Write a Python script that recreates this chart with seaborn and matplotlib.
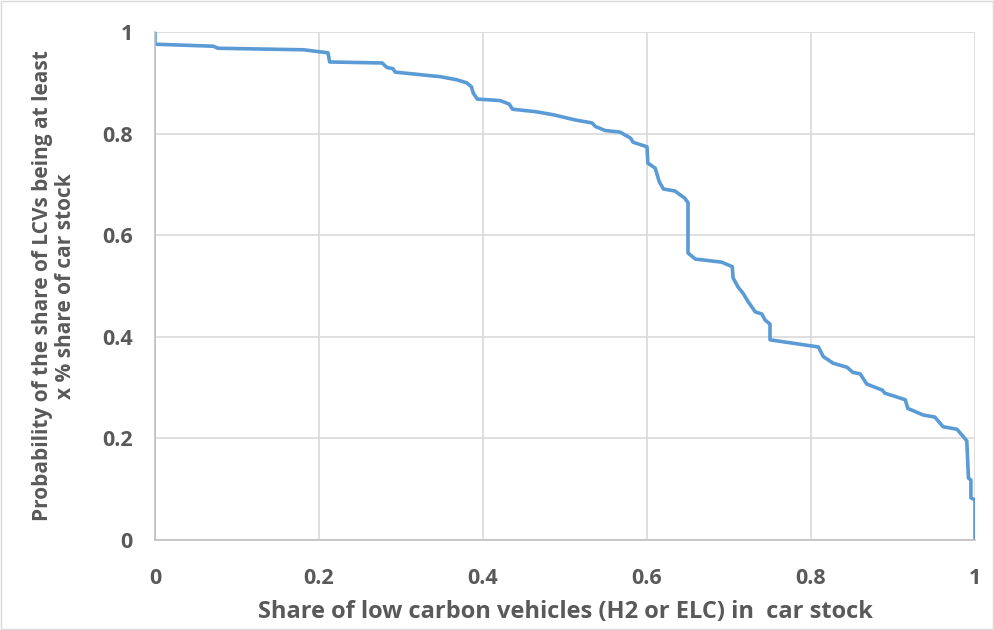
import matplotlib
matplotlib.use("Agg")
import matplotlib.pyplot as plt
import seaborn as sns
import pandas as pd
from matplotlib.patches import Rectangle

# Data (share, probability)
share = [0.0, 0.0, 0.071, 0.077, 0.181, 0.211, 0.213, 0.277, 0.283, 0.290, 0.293,
         0.348, 0.368, 0.380, 0.386, 0.388, 0.393, 0.421, 0.432, 0.436, 0.465,
         0.486, 0.512, 0.533, 0.537, 0.549, 0.567, 0.580, 0.583, 0.600, 0.601,
         0.610, 0.615, 0.620, 0.634, 0.646, 0.650, 0.650, 0.659, 0.691, 0.704,
         0.705, 0.711, 0.717, 0.723, 0.732, 0.740, 0.744, 0.750, 0.750, 0.809,
         0.815, 0.827, 0.844, 0.851, 0.860, 0.868, 0.887, 0.890, 0.900, 0.915,
         0.918, 0.937, 0.951, 0.961, 0.978, 0.986, 0.990, 0.992, 0.995, 0.995,
         1.0, 1.0]
prob = [1.0, 0.976, 0.972, 0.968, 0.965, 0.959, 0.941, 0.939, 0.930, 0.928, 0.921,
        0.912, 0.906, 0.900, 0.892, 0.880, 0.868, 0.865, 0.858, 0.848, 0.843,
        0.837, 0.827, 0.821, 0.814, 0.806, 0.803, 0.791, 0.783, 0.774, 0.742,
        0.732, 0.705, 0.691, 0.687, 0.673, 0.664, 0.565, 0.553, 0.547, 0.538,
        0.516, 0.498, 0.486, 0.470, 0.449, 0.445, 0.433, 0.425, 0.394, 0.380,
        0.361, 0.348, 0.340, 0.330, 0.327, 0.307, 0.295, 0.289, 0.284, 0.276,
        0.259, 0.246, 0.242, 0.223, 0.218, 0.203, 0.195, 0.122, 0.118, 0.083,
        0.079, 0.0]

x_ticks = [0, 0.2, 0.4, 0.6, 0.8, 1]
x_ticklabels = ["0", "0.2", "0.4", "0.6", "0.8", "1"]
y_ticks = [0, 0.2, 0.4, 0.6, 0.8, 1]
y_ticklabels = ["0", "0.2", "0.4", "0.6", "0.8", "1"]

x_label = "Share of low carbon vehicles (H2 or ELC) in  car stock"
y_label = "Probability of the share of LCVs being at least\nx % share of car stock"

sns.set_theme(style="white")
plt.rcParams['font.family'] = ['Open Sans', 'DejaVu Sans']

TEXT = "#595959"
GRID = "#D9D9D9"
LINE = "#5B9BD5"

fig = plt.figure(figsize=(9.95, 6.3), dpi=100)
ax = fig.add_axes([155/995, 1 - 540/630, (975-155)/995, (540-32)/630])

df = pd.DataFrame({"share": share, "prob": prob})
sns.lineplot(data=df, x="share", y="prob", sort=False, ax=ax, color=LINE,
             linewidth=2.6, estimator=None)

ax.set_xlim(0, 1)
ax.set_ylim(0, 1)
ax.set_xticks(x_ticks)
ax.set_xticklabels(x_ticklabels)
ax.set_yticks(y_ticks)
ax.set_yticklabels(y_ticklabels)
ax.grid(True, color=GRID, linewidth=1.2)
ax.set_axisbelow(True)
for s in ["top", "right"]:
    ax.spines[s].set_visible(False)
for s in ["left", "bottom"]:
    ax.spines[s].set_color("#BFBFBF")
    ax.spines[s].set_linewidth(1.2)

ax.tick_params(axis="both", length=0, labelsize=15.5, labelcolor=TEXT)
ax.tick_params(axis="x", pad=20)
ax.tick_params(axis="y", pad=16)
for lab in ax.get_xticklabels() + ax.get_yticklabels():
    lab.set_fontweight("bold")

ax.set_xlabel(x_label, fontsize=17, fontweight="bold", color=TEXT, labelpad=8)
ax.set_ylabel(y_label, fontsize=15, fontweight="bold", color=TEXT, labelpad=19,
              ha="center", linespacing=1.1)

fig.patches.append(Rectangle((0.001, 0.001), 0.997, 0.997, transform=fig.transFigure,
                             fill=False, edgecolor="#D9D9D9", linewidth=1))

fig.savefig("out.png", dpi=100)
